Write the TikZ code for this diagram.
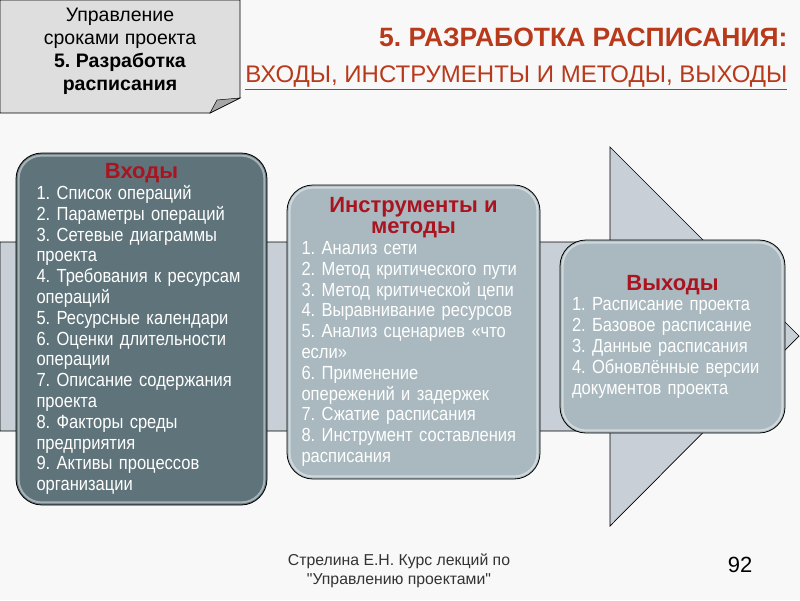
\documentclass[tikz,border=0pt]{standalone}
\usepackage{fontspec}
\setmainfont{Liberation Sans}
\newfontfamily\boxfont[FakeStretch=0.87]{Liberation Sans}
\newfontfamily\footfont[Ligatures=TeXOff]{Liberation Sans}
\definecolor{bgcol}{HTML}{F8F8F8}
\definecolor{titlered}{HTML}{B83A1B}
\definecolor{headred}{HTML}{AA1420}
\definecolor{darkbox}{HTML}{5E737A}
\definecolor{lightbox}{HTML}{A9B9BF}
\definecolor{bandcol}{HTML}{C8CFD6}
\definecolor{notecol}{HTML}{DEDEDE}
\newcommand{\boxhead}[1]{{\centering\rmfamily\fontsize{22}{21}\selectfont\bfseries\textcolor{headred}{#1}\par}}
\tikzset{
  stagebox/.style={draw=black,line width=0.8pt,rounded corners=26pt,
    inner sep=0pt,align=left,text=white,
    font=\boxfont\fontsize{19}{20.8}\selectfont\frenchspacing},
  shine/.style={draw=white,opacity=0.45,line width=2pt,rounded corners=23pt},
}
\begin{document}
\begin{tikzpicture}[x=1pt,y=-1pt]
\fill[bgcol] (0,0) rectangle (800,600);
\useasboundingbox (0,0) rectangle (800,600);
% big arrow behind the boxes
\draw[fill=bandcol,line width=0.7pt] (0,242) -- (610,242) -- (610,147) -- (799,336)
  -- (610,526) -- (610,431) -- (0,431) -- cycle;
% note in the corner
\draw[fill=notecol,line width=0.8pt] (0,0) -- (240,0) -- (240,98) -- (210,113) -- (0,113) -- cycle;
\draw[fill=gray!70,line width=0.5pt] (210,113) -- (240,98) -- (217,100) -- cycle;
\node[align=center,font=\fontsize{19.5}{23}\selectfont\frenchspacing] (note) at (120,51)
  {Управление\\ сроками проекта\\ \textbf{5. Разработка}\\ \textbf{расписания}};
% title
\node[anchor=east,text=titlered,font=\fontsize{26.5}{28}\selectfont\bfseries\frenchspacing] (title) at (791,37)
  {5. РАЗРАБОТКА РАСПИСАНИЯ:};
\node[anchor=east,text=titlered,font=\fontsize{24}{26}\selectfont\frenchspacing] (subtitle) at (791,78)
  {\underline{ВХОДЫ, ИНСТРУМЕНТЫ И МЕТОДЫ, ВЫХОДЫ}};
% inputs
\node[stagebox,fill=darkbox,minimum width=251pt,minimum height=352pt,
  text width=210pt] (inputs) at (141.5,329)
  {\boxhead{Входы}
   1. Список операций\\ 2. Параметры операций\\ 3. Сетевые диаграммы\\ проекта\\
   4. Требования к ресурсам\\ операций\\ 5. Ресурсные календари\\
   6. Оценки длительности\\ операции\\ 7. Описание содержания\\ проекта\\
   8. Факторы среды\\ предприятия\\ 9. Активы процессов\\ организации};
\draw[shine] ([shift={(3pt,-3pt)}]inputs.north west) rectangle ([shift={(-3pt,3pt)}]inputs.south east);
% tools
\node[stagebox,fill=lightbox,minimum width=253pt,minimum height=294pt,
  text width=224pt] (tools) at (413.5,332)
  {\boxhead{Инструменты и\\ методы}
   1. Анализ сети\\ 2. Метод критического пути\\ 3. Метод критической цепи\\
   4. Выравнивание ресурсов\\ 5. Анализ сценариев «что\\ если»\\ 6. Применение\\
   опережений и задержек\\ 7. Сжатие расписания\\ 8. Инструмент составления\\ расписания};
\draw[shine] ([shift={(3pt,-3pt)}]tools.north west) rectangle ([shift={(-3pt,3pt)}]tools.south east);
% outputs
\node[stagebox,fill=lightbox,minimum width=225pt,minimum height=193pt,
  text width=201pt] (outputs) at (672.5,336.5)
  {\boxhead{Выходы}
   1. Расписание проекта\\ 2. Базовое расписание\\ 3. Данные расписания\\
   4. Обновлённые версии\\ документов проекта};
\draw[shine] ([shift={(3pt,-3pt)}]outputs.north west) rectangle ([shift={(-3pt,3pt)}]outputs.south east);
% footer
\node[align=center,text=black!80,font=\footfont\fontsize{15.8}{19}\selectfont\frenchspacing] (author) at (399,571)
  {Стрелина Е.Н. Курс лекций по\\ "Управлению проектами"};
\node[font=\fontsize{22}{24}\selectfont] (page) at (740,565) {92};
\end{tikzpicture}
\end{document}
